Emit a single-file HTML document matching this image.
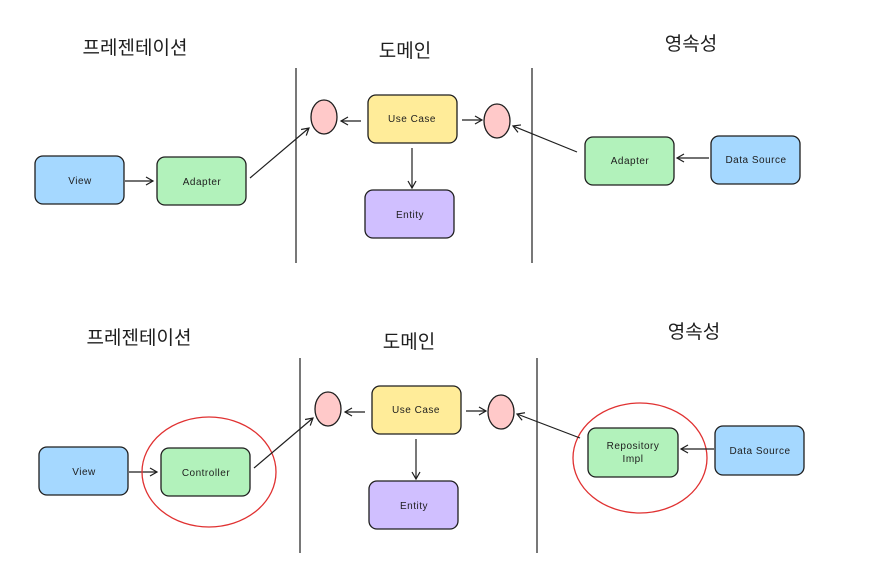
<!DOCTYPE html>
<html><head><meta charset="utf-8"><style>
html,body{margin:0;padding:0;background:#fff;}
svg{display:block}
.t{font-family:"Liberation Sans","Noto Sans CJK KR",sans-serif;font-size:19px;fill:#1e1e1e;text-anchor:middle}
.l{font-family:"Liberation Sans",sans-serif;font-size:10px;fill:#1e1e1e;text-anchor:middle;letter-spacing:0.5px}
.b{stroke:#1e1e1e;stroke-width:1.3}
.a{stroke:#1e1e1e;stroke-width:1.2;fill:none}
</style></head><body>
<svg width="896" height="571" viewBox="0 0 896 571" xmlns="http://www.w3.org/2000/svg">
<defs><marker id="m" markerWidth="10" markerHeight="10" refX="8" refY="5" orient="auto" markerUnits="userSpaceOnUse"><path d="M1,1 L8,5 L1,9" fill="none" stroke="#1e1e1e" stroke-width="1.2"/></marker></defs>

<!-- TOP -->
<text class="t" x="135" y="54">프레젠테이션</text>
<text class="t" x="405" y="57">도메인</text>
<text class="t" x="691" y="50">영속성</text>
<line class="a" x1="296" y1="68" x2="296" y2="263"/>
<line class="a" x1="532" y1="68" x2="532" y2="263"/>
<rect class="b" x="35" y="156" width="89" height="48" rx="8" fill="#a5d8ff"/><text class="l" x="80" y="184">View</text>
<rect class="b" x="157" y="157" width="89" height="48" rx="8" fill="#b2f2bb"/><text class="l" x="202" y="185">Adapter</text>
<line class="a" x1="125" y1="181" x2="153" y2="181" marker-end="url(#m)"/>
<ellipse class="b" cx="324" cy="117" rx="13" ry="17" fill="#ffc9c9"/>
<rect class="b" x="368" y="95" width="89" height="48" rx="8" fill="#ffec99"/><text class="l" x="412" y="122">Use Case</text>
<line class="a" x1="361" y1="121" x2="341" y2="121" marker-end="url(#m)"/>
<ellipse class="b" cx="497" cy="121" rx="13" ry="17" fill="#ffc9c9"/>
<line class="a" x1="462" y1="120" x2="482" y2="120" marker-end="url(#m)"/>
<rect class="b" x="365" y="190" width="89" height="48" rx="8" fill="#d0bfff"/><text class="l" x="410" y="218">Entity</text>
<line class="a" x1="412" y1="148" x2="412" y2="188" marker-end="url(#m)"/>
<rect class="b" x="585" y="137" width="89" height="48" rx="8" fill="#b2f2bb"/><text class="l" x="630" y="164">Adapter</text>
<rect class="b" x="711" y="136" width="89" height="48" rx="8" fill="#a5d8ff"/><text class="l" x="756" y="163">Data Source</text>
<line class="a" x1="709" y1="158" x2="677" y2="158" marker-end="url(#m)"/>
<line class="a" x1="577" y1="152" x2="513" y2="126" marker-end="url(#m)"/>
<line class="a" x1="250" y1="178" x2="309" y2="128" marker-end="url(#m)"/>

<!-- BOTTOM -->
<text class="t" x="139" y="344">프레젠테이션</text>
<text class="t" x="409" y="348">도메인</text>
<text class="t" x="694" y="338">영속성</text>
<line class="a" x1="300" y1="358" x2="300" y2="553"/>
<line class="a" x1="537" y1="358" x2="537" y2="553"/>
<rect class="b" x="39" y="447" width="89" height="48" rx="8" fill="#a5d8ff"/><text class="l" x="84" y="475">View</text>
<rect class="b" x="161" y="448" width="89" height="48" rx="8" fill="#b2f2bb"/><text class="l" x="206" y="476">Controller</text>
<line class="a" x1="129" y1="472" x2="157" y2="472" marker-end="url(#m)"/>
<ellipse cx="209" cy="472" rx="67" ry="55" fill="none" stroke="#e03131" stroke-width="1.3"/>
<ellipse class="b" cx="328" cy="409" rx="13" ry="17" fill="#ffc9c9"/>
<rect class="b" x="372" y="386" width="89" height="48" rx="8" fill="#ffec99"/><text class="l" x="416" y="413">Use Case</text>
<line class="a" x1="365" y1="412" x2="345" y2="412" marker-end="url(#m)"/>
<ellipse class="b" cx="501" cy="412" rx="13" ry="17" fill="#ffc9c9"/>
<line class="a" x1="466" y1="411" x2="486" y2="411" marker-end="url(#m)"/>
<rect class="b" x="369" y="481" width="89" height="48" rx="8" fill="#d0bfff"/><text class="l" x="414" y="509">Entity</text>
<line class="a" x1="416" y1="439" x2="416" y2="479" marker-end="url(#m)"/>
<rect class="b" x="588" y="428" width="90" height="49" rx="8" fill="#b2f2bb"/>
<text class="l" x="633" y="449">Repository</text><text class="l" x="633" y="462">Impl</text>
<ellipse cx="640" cy="458" rx="67" ry="55" fill="none" stroke="#e03131" stroke-width="1.3"/>
<rect class="b" x="715" y="426" width="89" height="49" rx="8" fill="#a5d8ff"/><text class="l" x="760" y="454">Data Source</text>
<line class="a" x1="714" y1="449" x2="681" y2="449" marker-end="url(#m)"/>
<line class="a" x1="580" y1="438" x2="517" y2="414" marker-end="url(#m)"/>
<line class="a" x1="254" y1="468" x2="313" y2="418" marker-end="url(#m)"/>
</svg>
</body></html>
